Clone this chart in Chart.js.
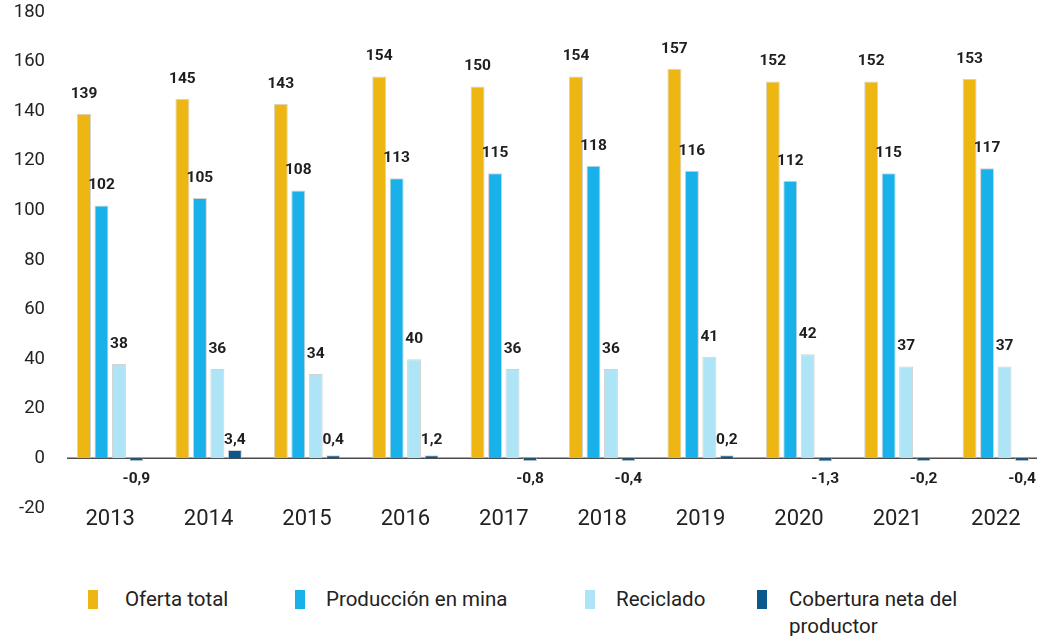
<!DOCTYPE html>
<html>
<head>
<meta charset="utf-8">
<script src="https://cdn.jsdelivr.net/npm/chart.js@4.4.1/dist/chart.umd.min.js"></script>
<style>
  html, body { margin: 0; padding: 0; background: #fff; overflow: hidden; }
  #wrap { position: relative; width: 1064px; height: 636px; overflow: hidden; }
  #box { position: absolute; left: 0; top: -15px; width: 1064px; height: 550px; }
  #legend {
    position: absolute; left: 88px; top: 586px;
    display: flex; align-items: flex-start;
    font-family: Roboto, sans-serif; font-size: 20.5px; color: #222;
  }
  .item { display: flex; align-items: flex-start; }
  .item:nth-child(1) { width: 207px; }
  .item:nth-child(2) { width: 290px; }
  .item:nth-child(3) { width: 172px; }
  .sw { width: 10px; height: 19px; margin-top: 4px; margin-right: 27px; flex: none; }
  .item:nth-child(2) .sw, .item:nth-child(3) .sw { margin-right: 21px; }
  .item:nth-child(4) .sw { margin-right: 22px; }
  .txt { line-height: 27px; }
</style>
</head>
<body>
<div id="wrap">
  <div id="box"><canvas id="chart"></canvas></div>
  <div id="legend"></div>
</div>
<script>
const years = ['2013', '2014', '2015', '2016', '2017', '2018', '2019', '2020', '2021', '2022'];
const ofertaTotal = [139, 145, 143, 154, 150, 154, 157, 152, 152, 153];
const produccionMina = [102, 105, 108, 113, 115, 118, 116, 112, 115, 117];
const reciclado = [38, 36, 34, 40, 36, 36, 41, 42, 37, 37];
const cobertura = [-0.9, 3.4, 0.4, 1.2, -0.8, -0.4, 0.2, -1.3, -0.2, -0.4];
const yTicks = [-20, 0, 20, 40, 60, 80, 100, 120, 140, 160, 180];

const seriesNames = ['Oferta total', 'Producción en mina', 'Reciclado', 'Cobertura neta del productor'];
const colors = ['#EEB612', '#19B1EA', '#AEE5F6', '#0B588C'];

const fmt = v => String(v).replace('.', ',');

// zero line, a bit shorter than the plot area
const zeroLine = {
    id: 'zeroLine',
    beforeDatasetsDraw(chart) {
        const { ctx, chartArea } = chart;
        const y0 = chart.scales.y.getPixelForValue(0);
        ctx.save();
        ctx.strokeStyle = '#4a4a4a';
        ctx.lineWidth = 1.5;
        ctx.beginPath();
        ctx.moveTo(chartArea.left + 6, y0);
        ctx.lineTo(chartArea.right - 8, y0);
        ctx.stroke();
        ctx.restore();
    }
};

// draws the value labels above / below each bar
const barLabels = {
    id: 'barLabels',
    afterDatasetsDraw(chart) {
        const ctx = chart.ctx;
        const y0 = chart.scales.y.getPixelForValue(0);
        ctx.save();
        ctx.font = 'bold 15.5px Roboto, sans-serif';
        ctx.fillStyle = '#1e1e1e';
        ctx.textAlign = 'center';
        ctx.textBaseline = 'middle';
        chart.data.datasets.forEach((ds, i) => {
            const meta = chart.getDatasetMeta(i);
            meta.data.forEach((bar, j) => {
                const v = ds.data[j];
                let y;
                if (i === 3) {
                    y = v >= 0 ? y0 - 18 : y0 + 21;
                } else {
                    y = bar.y - 20;
                }
                ctx.fillText(fmt(v), bar.x, y);
            });
        });
        ctx.restore();
    }
};

const ctx = document.getElementById('chart');
const chart = new Chart(ctx, {
    type: 'bar',
    data: {
        labels: years,
        datasets: [ofertaTotal, produccionMina, reciclado, cobertura].map((d, i) => ({
            label: seriesNames[i],
            data: d,
            backgroundColor: colors[i],
            borderColor: 'rgba(205,205,205,0.9)',
            borderWidth: 1,
            barPercentage: 0.8,
            categoryPercentage: 0.71,
            minBarLength: i === 3 ? 3 : 0,
        })),
    },
    options: {
        responsive: true,
        maintainAspectRatio: false,
        animation: false,
        layout: { padding: { top: 6, right: 19, left: 0, bottom: 0 } },
        plugins: {
            legend: { display: false },
            tooltip: { enabled: false },
        },
        scales: {
            x: {
                grid: { display: false, drawTicks: false },
                border: { display: false },
                ticks: {
                    color: '#222',
                    padding: -2,
                    font: { family: 'Roboto, sans-serif', size: 22 },
                },
            },
            y: {
                min: -20,
                max: 180,
                afterBuildTicks(scale) {
                    scale.ticks = yTicks.map(v => ({ value: v }));
                },
                afterFit(scale) { scale.width = 61; },
                border: { display: false },
                grid: { display: false, drawTicks: false },
                ticks: {
                    color: '#222',
                    padding: 16,
                    font: { family: 'Roboto, sans-serif', size: 18.5 },
                },
            },
        },
    },
    plugins: [zeroLine, barLabels],
});

const legend = document.getElementById('legend');
chart.data.datasets.forEach((ds, i) => {
    const item = document.createElement('div');
    item.className = 'item';
    const sw = document.createElement('span');
    sw.className = 'sw';
    sw.style.background = colors[i];
    const txt = document.createElement('span');
    txt.className = 'txt';
    if (i === 3) {
        txt.innerHTML = 'Cobertura neta del<br>productor';
    } else {
        txt.textContent = ds.label;
    }
    item.appendChild(sw);
    item.appendChild(txt);
    legend.appendChild(item);
});
</script>
</body>
</html>
